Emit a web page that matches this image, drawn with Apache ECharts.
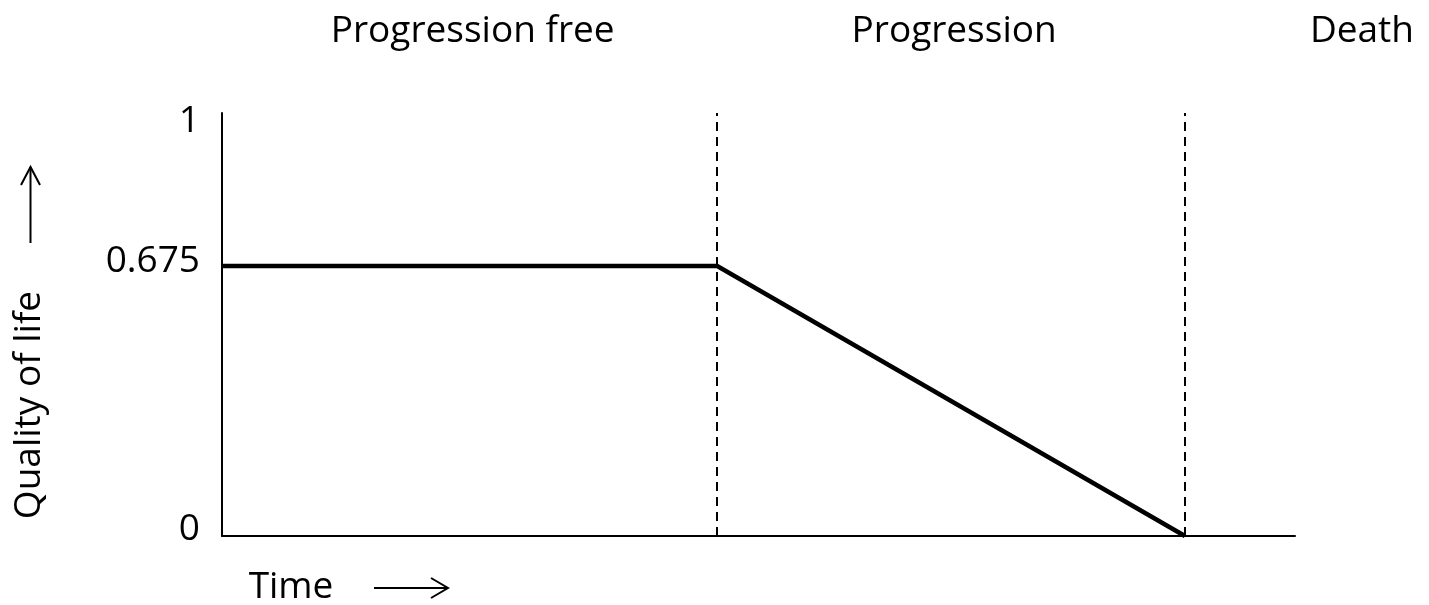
<!DOCTYPE html>
<html>
<head>
<meta charset="utf-8">
<style>
  html, body { margin: 0; padding: 0; background: #ffffff; }
  #chart { width: 1429px; height: 605px; }
</style>
<script src="https://cdn.jsdelivr.net/npm/echarts@6/dist/echarts.min.js"></script>
</head>
<body>
<div id="chart"></div>
<script>
// ---- data ----
const phaseNames = ['Progression free', 'Progression', 'Death'];
const phaseBoundaries = [0, 18, 35];          // time at which each phase starts
const timeMax = 39;
const qolTime = [0, 18, 35];
const qolValues = [0.675, 0.675, 0];
const yTickValues = [0, 0.675, 1];
const yTickLabels = ['0', '0.675', '1'];
const yAxisName = 'Quality of life';
const xAxisName = 'Time';

const FONT = '"Open Sans", "Liberation Sans", sans-serif';
const FS = 37;

const chart = echarts.init(document.getElementById('chart'), null, { renderer: 'canvas' });

const labelShift = { '0': 7, '0.675': 5, '1': 15 };
const rich = {};
yTickLabels.forEach((t, i) => {
  rich['t' + i] = {
    fontFamily: FONT, fontSize: FS, color: '#000',
    padding: [0, 0, 2 * labelShift[t], 0]
  };
});

chart.setOption({
  animation: false,
  backgroundColor: '#ffffff',
  grid: { left: 222, right: 134, top: 113, bottom: 69, containLabel: false },
  xAxis: {
    type: 'value', min: 0, max: timeMax,
    axisLine: { show: true, lineStyle: { color: '#000', width: 2 } },
    axisTick: { show: false }, axisLabel: { show: false }, splitLine: { show: false }
  },
  yAxis: {
    type: 'value', min: 0, max: 1.0575,
    axisLine: { show: true, lineStyle: { color: '#000', width: 2 } },
    axisTick: { show: false }, splitLine: { show: false },
    axisLabel: {
      show: true, customValues: yTickValues, margin: 22,
      formatter: function (v) {
        let idx = yTickValues.findIndex(x => Math.abs(x - v) < 1e-9);
        if (idx < 0) return '';
        return '{t' + idx + '|' + yTickLabels[idx] + '}';
      },
      rich: rich
    }
  },
  series: [{
    type: 'line',
    data: qolTime.map((t, i) => [t, qolValues[i]]),
    symbol: 'none',
    lineStyle: { color: '#000', width: 4.5, join: 'miter' },
    markLine: {
      silent: true, symbol: 'none',
      label: { show: false },
      lineStyle: { color: '#000', width: 2, type: [9, 6] },
      data: phaseBoundaries.slice(1).map(b => ({ xAxis: b }))
    }
  }]
});

// annotations positioned from the axes
const px = v => chart.convertToPixel({ xAxisIndex: 0 }, v);
const textStyle = (t, align) => ({ text: t, font: FS + 'px ' + FONT, fill: '#000', align: align || 'center', verticalAlign: 'middle' });
const graphics = [];
for (let i = 0; i < phaseNames.length; i++) {
  if (i < phaseNames.length - 1) {
    const mid = (phaseBoundaries[i] + (phaseBoundaries[i + 1])) / 2;
    graphics.push({ type: 'text', x: px(mid) + 3, y: 31, style: textStyle(phaseNames[i]) });
  } else {
    graphics.push({ type: 'text', x: 1414, y: 31, style: textStyle(phaseNames[i], 'right') });
  }
}
// x title + arrow
graphics.push({ type: 'text', x: 291, y: 587, style: textStyle(xAxisName) });
graphics.push({ type: 'line', shape: { x1: 374, y1: 588, x2: 448, y2: 588 }, style: { stroke: '#000', lineWidth: 2 } });
graphics.push({ type: 'polyline', shape: { points: [[431, 578], [448, 588], [431, 598]] }, style: { stroke: '#000', lineWidth: 2, fill: null } });
// y title + arrow
graphics.push({ type: 'text', x: 29, y: 405, rotation: Math.PI / 2, style: textStyle(yAxisName) });
graphics.push({ type: 'line', shape: { x1: 30.5, y1: 243, x2: 30.5, y2: 167 }, style: { stroke: '#000', lineWidth: 2 } });
graphics.push({ type: 'polyline', shape: { points: [[21, 185], [30.5, 167], [40, 185]] }, style: { stroke: '#000', lineWidth: 2, fill: null } });

chart.setOption({ graphic: graphics });
</script>
</body>
</html>
